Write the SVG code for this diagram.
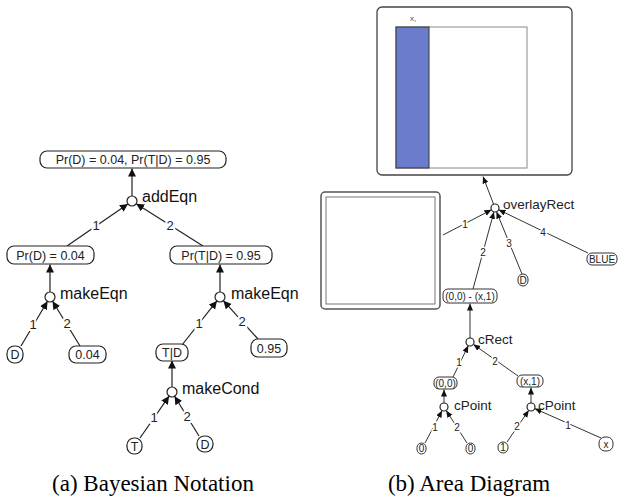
<svg xmlns="http://www.w3.org/2000/svg" width="619" height="500" viewBox="0 0 619 500">
<style>
.bx{fill:#fff;stroke:#222;stroke-width:1.2}
.bxb{fill:#fff;stroke:#333;stroke-width:1}
.t{font-family:"Liberation Sans",Arial,sans-serif;font-size:12.5px;fill:#222;text-anchor:middle}
.tb{font-family:"Liberation Sans",Arial,sans-serif;font-size:10px;fill:#222;text-anchor:middle}
.op{font-family:"Liberation Sans",Arial,sans-serif;font-size:16px;fill:#111}
.opb{font-family:"Liberation Sans",Arial,sans-serif;font-size:13.5px;fill:#222}
.el{font-family:"Liberation Sans",Arial,sans-serif;font-size:13px;fill:#222;text-anchor:middle;stroke:#fff;stroke-width:4;paint-order:stroke}
.elb{font-family:"Liberation Sans",Arial,sans-serif;font-size:10px;fill:#222;text-anchor:middle;stroke:#fff;stroke-width:3;paint-order:stroke}
.ea{stroke:#222;stroke-width:1.2;fill:none;marker-end:url(#ah)}
.eb{stroke:#333;stroke-width:1;fill:none;marker-end:url(#ahb)}
.c{fill:#fff;stroke:#222;stroke-width:1.2}
.cap{font-family:"Liberation Serif","Times New Roman",serif;font-size:23px;fill:#000;text-anchor:middle}
</style>
<defs>
<marker id="ah" markerUnits="userSpaceOnUse" markerWidth="10" markerHeight="10" refX="8" refY="4" orient="auto"><path d="M0,0 L8,4 L0,8 z" fill="#111"/></marker>
<marker id="ahb" markerUnits="userSpaceOnUse" markerWidth="8" markerHeight="8" refX="7" refY="3" orient="auto"><path d="M0,0 L7,3 L0,6 z" fill="#111"/></marker>
</defs>
<rect width="619" height="500" fill="#fff"/>

<g id="connectors">
<!-- panel a -->
<line class="ea" x1="132" y1="196" x2="132" y2="168.5"/>
<line class="ea" x1="67" y1="246" x2="127.9" y2="203.9"/>
<line class="ea" x1="203" y1="246" x2="136.2" y2="203.7"/>
<line class="ea" x1="50" y1="292" x2="50" y2="264.5"/>
<line class="ea" x1="21" y1="346" x2="47.5" y2="301.3"/>
<line class="ea" x1="80" y1="346" x2="52.6" y2="301.3"/>
<line class="ea" x1="220" y1="292" x2="220" y2="264.5"/>
<line class="ea" x1="182" y1="345" x2="216.9" y2="300.9"/>
<line class="ea" x1="258" y1="339" x2="223.4" y2="300.7"/>
<line class="ea" x1="172" y1="387" x2="172" y2="360.5"/>
<line class="ea" x1="140" y1="438" x2="169.1" y2="396.1"/>
<line class="ea" x1="199" y1="436" x2="174.6" y2="396.3"/>
<text class="el" x="96" y="230">1</text>
<text class="el" x="170" y="230">2</text>
<text class="el" x="33" y="329">1</text>
<text class="el" x="67" y="328">2</text>
<text class="el" x="199" y="328">1</text>
<text class="el" x="242" y="326">2</text>
<text class="el" x="154" y="422">1</text>
<text class="el" x="187" y="421">2</text>
<!-- panel b -->
<line class="eb" x1="493.6" y1="204.3" x2="483" y2="176.5"/>
<line class="eb" x1="443" y1="235" x2="491.5" y2="209.8"/>
<line class="eb" x1="473" y1="289" x2="493.9" y2="211.9"/>
<line class="eb" x1="522" y1="274" x2="496.5" y2="211.7"/>
<line class="eb" x1="588" y1="253" x2="498.6" y2="209.7"/>
<line class="eb" x1="470" y1="338" x2="470" y2="303.5"/>
<line class="eb" x1="453" y1="377" x2="468.3" y2="345.6"/>
<line class="eb" x1="518" y1="376" x2="473.3" y2="344.3"/>
<line class="eb" x1="444" y1="403" x2="444" y2="389.5"/>
<line class="eb" x1="425" y1="443" x2="442.1" y2="410.5"/>
<line class="eb" x1="467" y1="443" x2="446.2" y2="410.4"/>
<line class="eb" x1="531" y1="403" x2="531" y2="387.5"/>
<line class="eb" x1="507" y1="442" x2="528.8" y2="410.3"/>
<line class="eb" x1="601" y1="438" x2="534.7" y2="408.6"/>
<text class="elb" x="465" y="228">1</text>
<text class="elb" x="483" y="256">2</text>
<text class="elb" x="509" y="247">3</text>
<text class="elb" x="543" y="236">4</text>
<text class="elb" x="459" y="366">1</text>
<text class="elb" x="495" y="365">2</text>
<text class="elb" x="435" y="431">1</text>
<text class="elb" x="457" y="431">2</text>
<text class="elb" x="517" y="430">2</text>
<text class="elb" x="568" y="429">1</text>
</g>

<!-- panel a nodes -->
<g id="top"><rect class="bx" x="40" y="151" width="186" height="17" rx="7"/><text class="t" x="133" y="164">Pr(D) = 0.04, Pr(T|D) = 0.95</text></g>
<g id="addEqn"><circle class="c" cx="132" cy="201" r="5"/><text class="op" x="142" y="202">addEqn</text></g>
<g id="prD"><rect class="bx" x="7" y="246" width="87" height="18" rx="7"/><text class="t" x="50.5" y="259.5">Pr(D) = 0.04</text></g>
<g id="prTD"><rect class="bx" x="170" y="246" width="102" height="18" rx="7"/><text class="t" x="221" y="259.5">Pr(T|D) = 0.95</text></g>
<g id="makeEqn1"><circle class="c" cx="50" cy="297" r="5"/><text class="op" x="60" y="299">makeEqn</text></g>
<g id="makeEqn2"><circle class="c" cx="220" cy="297" r="5"/><text class="op" x="231" y="299">makeEqn</text></g>
<g id="Da"><rect class="bx" x="7" y="346" width="16" height="17" rx="7.5"/><text class="t" x="15" y="359">D</text></g>
<g id="v004"><rect class="bx" x="69" y="346" width="37" height="17" rx="7"/><text class="t" x="87.5" y="359">0.04</text></g>
<g id="TD"><rect class="bx" x="156" y="344" width="32" height="17" rx="7"/><text class="t" x="172" y="357">T|D</text></g>
<g id="v095"><rect class="bx" x="251" y="339" width="36" height="18" rx="7"/><text class="t" x="269" y="352.5">0.95</text></g>
<g id="makeCond"><circle class="c" cx="172" cy="392" r="5"/><text class="op" x="182" y="394">makeCond</text></g>
<g id="T"><rect class="bx" x="127" y="438" width="15" height="16" rx="7"/><text class="t" x="134.5" y="450.5">T</text></g>
<g id="Db"><rect class="bx" x="197" y="436" width="16" height="16" rx="7.5"/><text class="t" x="205" y="448.5">D</text></g>
<text class="cap" x="153" y="491">(a) Bayesian Notation</text>

<!-- panel b nodes -->
<g id="result">
<rect x="377" y="7" width="195" height="168" rx="5" fill="#fff" stroke="#444" stroke-width="1.3"/>
<rect x="396" y="27" width="131" height="141" fill="#fff" stroke="#888" stroke-width="1"/>
<rect x="396" y="27" width="33" height="141" fill="#6b7ccd" stroke="#333" stroke-width="1"/>
<text x="413" y="21" font-family="Liberation Sans,Arial,sans-serif" font-size="8" fill="#555" text-anchor="middle">x,</text>
</g>
<g id="square">
<rect x="321" y="192" width="119" height="117" rx="4" fill="#fff" stroke="#555" stroke-width="1.5"/>
<rect x="326" y="197" width="109" height="107" fill="#fff" stroke="#777" stroke-width="1"/>
</g>
<g id="overlayRect"><circle class="c" cx="495" cy="208" r="4"/><text class="opb" x="503" y="209">overlayRect</text></g>
<g id="Dc"><rect class="bxb" x="518" y="274" width="10" height="12" rx="5"/><text class="tb" x="523" y="283.5">D</text></g>
<g id="blue"><rect class="bxb" x="587" y="253" width="30" height="12" rx="5"/><text class="tb" x="602" y="262.5">BLUE</text></g>
<g id="rectval"><rect class="bxb" x="443" y="289" width="54" height="14" rx="5"/><text class="tb" x="470" y="299.5">(0,0) - (x,1)</text></g>
<g id="cRect"><circle class="c" cx="470" cy="342" r="4"/><text class="opb" x="478" y="344">cRect</text></g>
<g id="p00"><rect class="bxb" x="434" y="377" width="23" height="12" rx="5"/><text class="tb" x="445.5" y="386.5">(0,0)</text></g>
<g id="px1"><rect class="bxb" x="517" y="375" width="26" height="12" rx="5"/><text class="tb" x="530" y="384.5">(x,1)</text></g>
<g id="cPoint1"><circle class="c" cx="444" cy="407" r="4"/><text class="opb" x="454" y="410">cPoint</text></g>
<g id="cPoint2"><circle class="c" cx="531" cy="407" r="4"/><text class="opb" x="538" y="410">cPoint</text></g>
<g id="z1"><rect class="bxb" x="417" y="443" width="9" height="11" rx="4.5"/><text class="tb" x="421.5" y="452">0</text></g>
<g id="z2"><rect class="bxb" x="466" y="443" width="9" height="11" rx="4.5"/><text class="tb" x="470.5" y="452">0</text></g>
<g id="one"><rect class="bxb" x="498" y="442" width="10" height="11" rx="5"/><text class="tb" x="503" y="451">1</text></g>
<g id="xn"><rect class="bxb" x="599" y="437" width="14" height="14" rx="6"/><text class="tb" x="606" y="447.5">x</text></g>
<text class="cap" x="469" y="491">(b) Area Diagram</text>
</svg>
